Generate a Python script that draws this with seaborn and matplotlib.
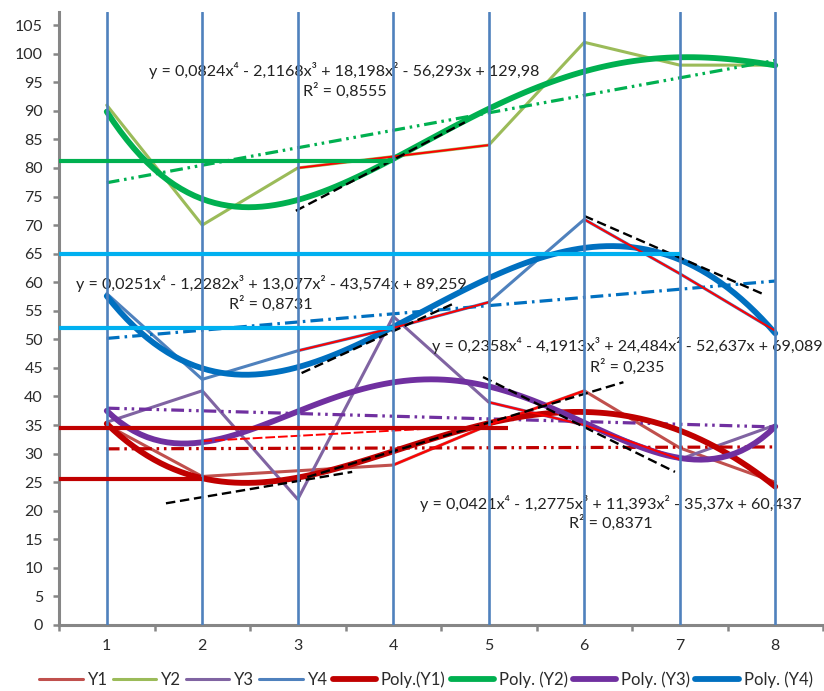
import matplotlib
matplotlib.use("Agg")
import matplotlib.pyplot as plt
import seaborn as sns

# x categories
cats = [1, 2, 3, 4, 5, 6, 7, 8]

# series values
y1 = [35, 26, 27, 28, 35, 41, 31, 25]
y2 = [91, 70, 80, 82, 84, 102, 98, 98]
y3 = [35.5, 41, 22, 54, 39, 35, 29, 35]
y4 = [58, 43, 48, 52, 56.5, 71, 61.5, 51.5]

series = [y1, y2, y3, y4]
series_names = ["Y1", "Y2", "Y3", "Y4"]
poly_names = ["Poly.(Y1)", "Poly. (Y2)", "Poly. (Y3)", "Poly. (Y4)"]

# trendline labels printed on the chart
eq_texts = [
    "y = 0,0421x\u2074 - 1,2775x\u00b3 + 11,393x\u00b2 - 35,37x + 60,437",
    "y = 0,0824x\u2074 - 2,1168x\u00b3 + 18,198x\u00b2 - 56,293x + 129,98",
    "y = 0,2358x\u2074 - 4,1913x\u00b3 + 24,484x\u00b2 - 52,637x + 69,089",
    "y = 0,0251x\u2074 - 1,2282x\u00b3 + 13,077x\u00b2 - 43,574x + 89,259",
]
r2_texts = ["R\u00b2 = 0,8371", "R\u00b2 = 0,8555", "R\u00b2 = 0,235", "R\u00b2 = 0,8731"]

# hand drawn marks on top of the chart
hline_levels = [81.3, 65, 52, 34.4, 25.5]
hline_ends = [4, 7, 4, 5.2, 2]
tangents = [  # x0, y0, x1, y1
    (2.98, 72.5, 4.75, 88.0),
    (6.0, 71.6, 7.89, 57.8),
    (3.04, 44.1, 4.65, 56.4),
    (1.62, 21.3, 3.57, 26.8),
    (3.10, 25.9, 6.41, 42.5),
    (4.94, 43.4, 6.95, 26.8),
]
# (series index, first category index, last category index) traced in red
red_traces = [(1, 2, 4), (3, 2, 4), (3, 5, 7), (0, 3, 5), (2, 4, 6)]
red_dash = (2.0, 32.2, 4.3, 34.3)

series_colors = ["#C0504D", "#9BBB59", "#8064A2", "#4F81BD"]
poly_colors = ["#C00000", "#00B050", "#7030A0", "#0070C0"]
hline_colors = ["#00B050", "#00B0F0", "#00B0F0", "#C00000", "#C00000"]
lin_styles = [
    (0, (4, 1.5, 0.8, 1.5, 0.8, 1.5)),
    (0, (4, 1.5, 0.8, 1.5, 0.8, 1.5)),
    (0, (4, 1.5, 0.8, 1.5, 0.8, 1.5)),
    (0, (4, 1.6, 0.8, 1.6)),
]

sns.set_theme(style="white")
plt.rcParams["font.family"] = ["Lato", "DejaVu Sans"]
text_color = "#2b2b2b"
axis_gray = "#868686"

fig = plt.figure(figsize=(8.24, 6.91), dpi=100)
ax = fig.add_axes([59 / 824, 66 / 691, 764 / 824, 613 / 691])

# data series
for vals, name, col in zip(series, series_names, series_colors):
    sns.lineplot(x=cats, y=vals, color=col, lw=2.2, label=name, ax=ax, zorder=2)

# linear trendlines
for vals, col, ls in zip(series, poly_colors, lin_styles):
    sns.regplot(x=cats, y=vals, order=1, ci=None, scatter=False, ax=ax,
                line_kws=dict(color=col, lw=2.3, linestyle=ls, zorder=2.5))

# 4th order polynomial trendlines
for vals, name, col in zip(series, poly_names, poly_colors):
    sns.regplot(x=cats, y=vals, order=4, ci=None, scatter=False, ax=ax, label=name,
                line_kws=dict(color=col, lw=4.2, zorder=3, solid_capstyle="round"))

# red traces over parts of the series
for si, a, b in red_traces:
    ax.plot(cats[a:b + 1], series[si][a:b + 1], color="#FF0000", lw=1.4, zorder=4)
ax.plot(red_dash[0::2], red_dash[1::2], color="#FF0000", lw=1.4,
        linestyle=(0, (5, 1.5)), zorder=4)

# black dashed tangents
for x0, yy0, x1, yy1 in tangents:
    ax.plot([x0, x1], [yy0, yy1], color="black", lw=1.7,
            linestyle=(0, (4, 2)), zorder=4.5)

# equations
eq_pos = [(6.28, 21.35, 17.85), (3.49, 97.1, 93.5), (6.45, 49.0, 45.2), (2.72, 59.85, 56.2)]
for (xe, ye, yr), eq, r2 in zip(eq_pos, eq_texts, r2_texts):
    ax.text(xe, ye, eq, ha="center", va="center", fontsize=11.6, color="#222222", zorder=4.6)
    ax.text(xe, yr, r2, ha="center", va="center", fontsize=11.6, color="#222222", zorder=4.6)

ymax = 107.3
# vertical markers at each category
for c in cats:
    ax.axvline(c, color="#4F81BD", lw=1.9, zorder=5)

# horizontal marks
for lev, end, col in zip(hline_levels, hline_ends, hline_colors):
    ax.plot([0.5, end], [lev, lev], color=col, lw=3.0, zorder=6, solid_capstyle="butt")

ax.get_legend().remove()
ax.set_xlim(0.5, 8.5)
ax.set_ylim(0, ymax)
ax.set_yticks(range(0, 110, 5))
ax.set_xticks(cats)
ax.set_xticks([c - 0.5 for c in cats] + [8.5], minor=True)
ax.set_xlabel("")
ax.set_ylabel("")

for s in ["top", "right"]:
    ax.spines[s].set_visible(False)
for s in ["left", "bottom"]:
    ax.spines[s].set_color(axis_gray)
    ax.spines[s].set_linewidth(2.2)

ax.tick_params(axis="y", which="major", direction="out", length=4.5, width=1.8,
               color=axis_gray, labelsize=11.5, labelcolor=text_color, pad=7, left=True)
ax.tick_params(axis="x", which="major", length=0, labelsize=11.5, labelcolor=text_color, pad=10)
ax.tick_params(axis="x", which="minor", direction="out", length=4.5, width=1.8,
               color=axis_gray, bottom=True)
ax.grid(False)

handles, labels = ax.get_legend_handles_labels()
order = series_names + poly_names
hmap = dict(zip(labels, handles))
leg = fig.legend([hmap[n] for n in order], order, loc="center",
                 bbox_to_anchor=(426 / 824, 11 / 691), ncol=8, frameon=False,
                 fontsize=12, handlelength=2.6, handletextpad=0.3, columnspacing=0.3,
                 labelcolor=text_color)

fig.savefig("out.png", dpi=100)
